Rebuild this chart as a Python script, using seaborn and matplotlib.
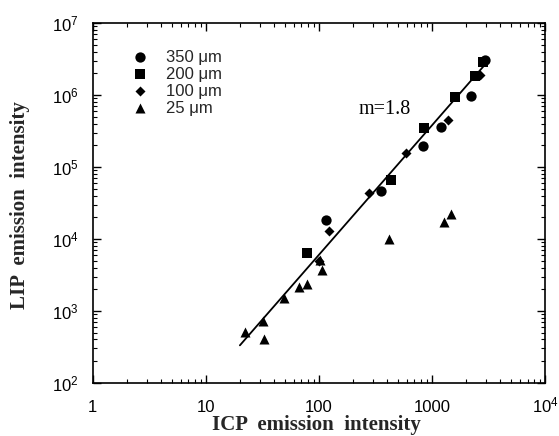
import numpy as np
import pandas as pd
import matplotlib
matplotlib.use("Agg")
import matplotlib.pyplot as plt
from matplotlib.ticker import FixedLocator, FixedFormatter, LogLocator, NullFormatter
import seaborn as sns

# ICP vs LIP emission intensities for four spot diameters
icp_350 = [115, 356, 840, 1214, 2198, 2930]
lip_350 = [18400, 46400, 196000, 360000, 968000, 3060000]

icp_200 = [78, 436, 858, 1585, 2387, 2812]
lip_200 = [6400, 65900, 348000, 937000, 1840000, 2870000]

icp_100 = [123, 278, 593, 1373, 2644, 100]
lip_100 = [12900, 43500, 156000, 450000, 1900000, 5000]

icp_25 = [22, 31.8, 33, 48.9, 66, 78, 106, 102, 419, 1266, 1460]
lip_25 = [511, 726, 408, 1517, 2150, 2370, 3700, 5100, 10000, 17200, 22200]

series_labels = ["350 \u03bcm", "200 \u03bcm", "100 \u03bcm", "25 \u03bcm"]

# power-law fit: LIP = coef * ICP^slope
fit_slope = 1.8
fit_coef = 1.51
fit_x = [20, 3000]

x_tick_vals = [1, 10, 100, 1000, 10000]
x_tick_text = ["1", "10", "100", "1000", "10$^4$"]
y_tick_vals = [1e2, 1e3, 1e4, 1e5, 1e6, 1e7]
y_tick_text = ["10$^2$", "10$^3$", "10$^4$", "10$^5$", "10$^6$", "10$^7$"]

sns.set_theme(style="ticks")
plt.rcParams["font.family"] = ["Liberation Sans", "DejaVu Sans"]
plt.rcParams["mathtext.fontset"] = "custom"
plt.rcParams["mathtext.rm"] = "Liberation Sans"
plt.rcParams["mathtext.it"] = "Liberation Sans"

serif = ["Liberation Serif", "DejaVu Serif"]

fig = plt.figure(figsize=(5.59, 4.36), dpi=100)
ax = fig.add_axes([0.166, 0.122, 0.809, 0.825])

frames = []
for xs, ys, lab in [(icp_350, lip_350, series_labels[0]),
                    (icp_200, lip_200, series_labels[1]),
                    (icp_100, lip_100, series_labels[2]),
                    (icp_25, lip_25, series_labels[3])]:
    frames.append(pd.DataFrame({"icp": xs, "lip": ys, "spot": lab}))
df = pd.concat(frames, ignore_index=True)

marker_map = {series_labels[0]: "o", series_labels[1]: "s",
              series_labels[2]: "D", series_labels[3]: "^"}
size_map = {series_labels[0]: 55, series_labels[1]: 48,
            series_labels[2]: 26, series_labels[3]: 52}

for lab in series_labels:
    sub = df[df["spot"] == lab]
    sns.scatterplot(data=sub, x="icp", y="lip", marker=marker_map[lab],
                    s=size_map[lab], color="black", edgecolor="black",
                    linewidth=0, label=lab, ax=ax, zorder=3)

fx = np.array(fit_x, dtype=float)
fy = fit_coef * fx ** fit_slope
sns.lineplot(x=fx, y=fy, color="black", linewidth=1.3, ax=ax, zorder=2)

ax.set_xscale("log")
ax.set_yscale("log")
ax.set_xlim(1, 1e4)
ax.set_ylim(1e2, 1e7)

ax.xaxis.set_major_locator(FixedLocator(x_tick_vals))
ax.xaxis.set_major_formatter(FixedFormatter(x_tick_text))
ax.yaxis.set_major_locator(FixedLocator(y_tick_vals))
ax.yaxis.set_major_formatter(FixedFormatter(y_tick_text))
ax.xaxis.set_minor_locator(LogLocator(base=10, subs=np.arange(2, 10), numticks=20))
ax.yaxis.set_minor_locator(LogLocator(base=10, subs=np.arange(2, 10), numticks=20))
ax.xaxis.set_minor_formatter(NullFormatter())
ax.yaxis.set_minor_formatter(NullFormatter())

ax.tick_params(which="both", direction="in", top=True, right=True, colors="black")
ax.tick_params(which="major", length=6, width=1.0, labelsize=12)
ax.tick_params(which="minor", length=3, width=0.8)
ax.tick_params(axis="x", which="major", pad=21)
ax.tick_params(axis="y", which="major", pad=10)
for t in ax.get_xticklabels():
    t.set_verticalalignment("baseline")
for sp in ax.spines.values():
    sp.set_color("black")
    sp.set_linewidth(1.2)

ax.set_xlabel("ICP  emission  intensity", fontsize=15, fontweight="bold",
              family=serif, va="center")
ax.set_ylabel("LIP  emission  intensity", fontsize=15, fontweight="bold",
              family=serif, va="center")
ax.xaxis.set_label_coords(0.494, -0.117)
ax.yaxis.set_label_coords(-0.1615, 0.494)

ax.text(379, 6.2e5, f"m={fit_slope}", fontsize=14.5, ha="center", va="center",
        family=serif, color="black")

ax.legend(loc="upper left", bbox_to_anchor=(0.053, 0.945), frameon=False,
          fontsize=12, handletextpad=0.55, labelspacing=0.12, borderaxespad=0)

fig.savefig("out.png", dpi=100, facecolor="white")
